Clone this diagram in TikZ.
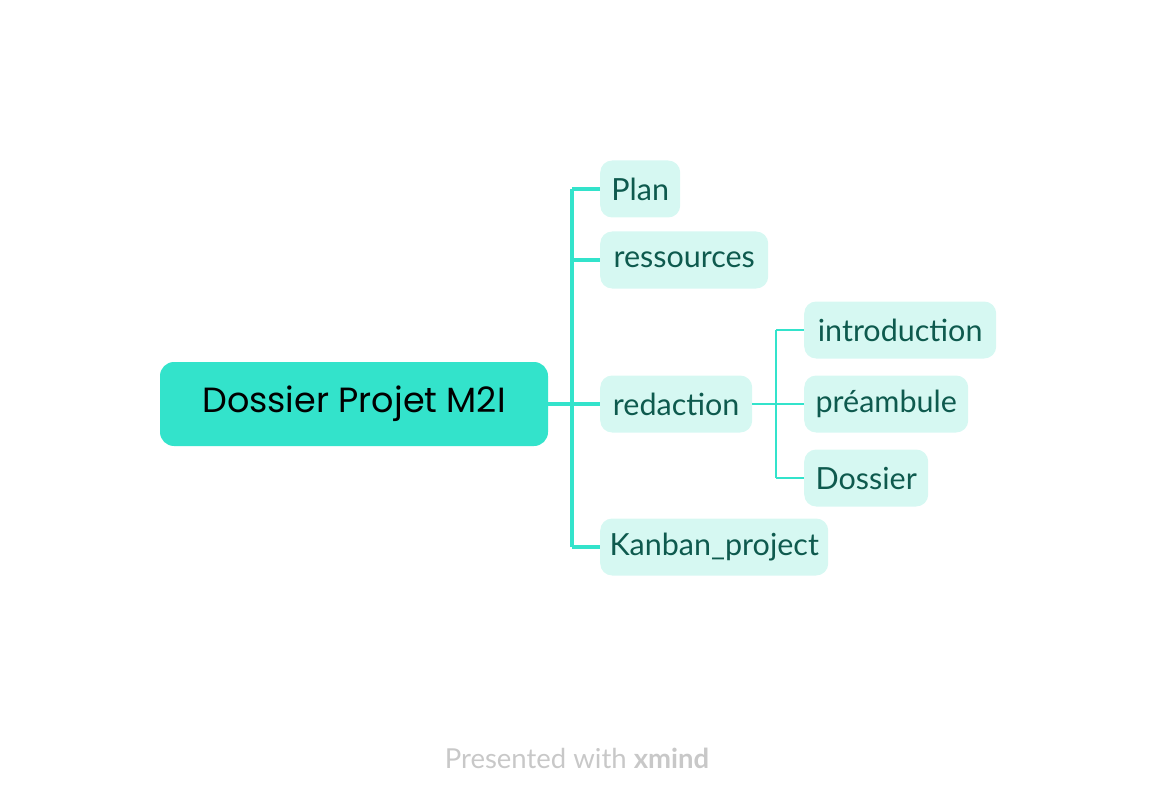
\documentclass[tikz,border=0pt]{standalone}
\usepackage{fontspec}
\setmainfont{Lato}
\newfontfamily\rootfont{Poppins}
\begin{document}
\definecolor{turq}{HTML}{33E3CB}
\definecolor{mint}{HTML}{D6F8F2}
\definecolor{darkteal}{HTML}{0E5A4E}
\definecolor{footgray}{HTML}{C8C8C8}
\begin{tikzpicture}[x=1pt,y=-1pt,
  rootbox/.style={fill=turq, rounded corners=14pt, inner sep=0pt, font=\rootfont\fontsize{35}{40}\selectfont, text=black},
  childbox/.style={fill=mint, rounded corners=12pt, inner sep=0pt, minimum height=57pt, font=\fontsize{30.5}{34}\selectfont, text=darkteal},
  mainline/.style={draw=turq, line width=4pt},
  subline/.style={draw=turq, line width=2pt}]
\useasboundingbox (0,0) rectangle (1156,810);
\node[rootbox, minimum width=388pt, minimum height=84pt] (root) at (354,404) {Dossier Projet M2I};
\node[childbox, minimum width=80pt, anchor=west] (plan) at (600,189) {Plan};
\node[childbox, minimum width=168pt, anchor=west] (res) at (600,260) {ressources};
\node[childbox, minimum width=152pt, anchor=west] (red) at (600,404) {redaction};
\node[childbox, minimum width=228pt, anchor=west] (kan) at (600,547) {Kanban\_project};
\node[childbox, minimum width=192pt, anchor=west] (intro) at (804,330) {introduction};
\node[childbox, minimum width=164pt, anchor=west] (pre) at (804,404) {préambule};
\node[childbox, minimum width=124pt, anchor=west] (dos) at (804,478) {Dossier};
\coordinate (j1) at (572,404);
\coordinate (j2) at (776,404);
\draw[mainline] (root.east) -- (j1);
\draw[mainline] (j1 |- plan.west) -- (j1 |- kan.west);
\foreach \n in {plan,res,red,kan} \draw[mainline] (j1 |- \n.west) -- (\n.west);
\draw[subline] (red.east) -- (j2);
\draw[subline] (j2 |- intro.west) -- (j2 |- dos.west);
\foreach \n in {intro,pre,dos} \draw[subline] (j2 |- \n.west) -- (\n.west);
\node[text=footgray, font=\fontsize{27.5}{32}\selectfont] (foot) at (577,758) {Presented with \textbf{xmind}};
\end{tikzpicture}
\end{document}
